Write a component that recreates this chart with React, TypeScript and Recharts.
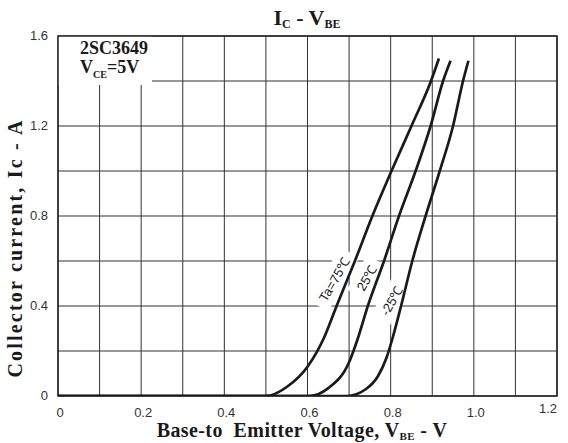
import { LineChart, Line, XAxis, YAxis, CartesianGrid, ReferenceArea, ReferenceDot } from 'recharts';

// Ic - Vbe curves of 2SC3649 at three ambient temperatures
const v75 = [0, 0.5, 0.55, 0.6, 0.64, 0.67, 0.714, 0.756, 0.802, 0.85, 0.897, 0.916];
const i75 = [0, 0, 0.04, 0.13, 0.26, 0.4, 0.6, 0.8, 1.0, 1.2, 1.4, 1.5];

const v25 = [0, 0.605, 0.65, 0.7, 0.72, 0.745, 0.784, 0.82, 0.86, 0.896, 0.926, 0.944];
const i25 = [0, 0, 0.035, 0.15, 0.25, 0.4, 0.6, 0.8, 1.0, 1.2, 1.4, 1.49];

const vM25 = [0, 0.694, 0.74, 0.77, 0.79, 0.805, 0.825, 0.852, 0.884, 0.918, 0.95, 0.974, 0.987];
const iM25 = [0, 0, 0.03, 0.09, 0.17, 0.26, 0.4, 0.6, 0.8, 1.0, 1.2, 1.4, 1.49];

const xTicks = [0, 0.1, 0.2, 0.3, 0.4, 0.5, 0.6, 0.7, 0.8, 0.9, 1.0, 1.1, 1.2];
const xLabels = ['0', '0.2', '0.4', '0.6', '0.8', '1.0', '1.2'];
const yTicks = [0, 0.2, 0.4, 0.6, 0.8, 1.0, 1.2, 1.4, 1.6];
const yLabels = ['0', '0.4', '0.8', '1.2', '1.6'];

const curveLabels = [
  { text: 'Ta=75℃', v: 0.664, i: 0.519, w: 62 },
  { text: '25℃', v: 0.742, i: 0.526, w: 40 },
  { text: '-25℃', v: 0.802, i: 0.424, w: 46 },
];

const toPoints = (vs: number[], is: number[]) => vs.map((v, k) => ({ v, i: is[k] }));
const s75 = toPoints(v75, i75);
const s25 = toPoints(v25, i25);
const sM25 = toPoints(vM25, iM25);

const sans = '"Liberation Sans", Arial, sans-serif';
const serif = '"Liberation Serif", "Times New Roman", serif';
const ink = '#1a1a1a';

const XTick = (props: any) => {
  const { x, y, payload } = props;
  const lbl = payload.value.toFixed(1) === '0.0' ? '0' : payload.value.toFixed(1);
  if (!xLabels.includes(lbl)) return <g />;
  const last = lbl === '1.2';
  return (
    <text x={last ? x : x + 2} y={last ? y + 9 : y + 13} textAnchor={last ? 'end' : 'middle'}
      fontFamily={sans} fontSize={13} fill="#333">{lbl}</text>
  );
};

const YTick = (props: any) => {
  const { x, y, payload } = props;
  const lbl = payload.value === 0 ? '0' : payload.value.toFixed(1);
  if (!yLabels.includes(lbl)) return <g />;
  return (
    <text x={x - 2} y={y + 4} textAnchor="end" fontFamily={sans} fontSize={13} fill="#333">{lbl}</text>
  );
};

const curveTag = (text: string, w: number) => (props: any) => {
  const { cx, cy } = props;
  return (
    <g transform={`translate(${cx},${cy}) rotate(-60)`}>
      <rect x={-w / 2} y={-11} width={w} height={22} fill="#fff" />
      <text x={0} y={5} textAnchor="middle" fontFamily={sans} fontSize={13} fill={ink}>{text}</text>
    </g>
  );
};

export default function App() {
  return (
    <div style={{ position: 'absolute', left: 0, top: 0, width: 568, height: 443, background: '#fff' }}>
      <LineChart width={568} height={443} margin={{ top: 36, right: 11, bottom: 17, left: 8 }}>
        <CartesianGrid stroke="#333" strokeWidth={1} />
        <XAxis dataKey="v" type="number" domain={[0, 1.2]} ticks={xTicks} tick={<XTick />}
          tickLine={false} axisLine={false} height={30} interval={0} allowDataOverflow />
        <YAxis type="number" domain={[0, 1.6]} ticks={yTicks} tick={<YTick />}
          tickLine={false} axisLine={false} width={50} interval={0} allowDataOverflow />
        <ReferenceArea x1={0} x2={0.226} y1={1.382} y2={1.6} fill="#fff" fillOpacity={1} stroke="none" zIndex={50} />
        <ReferenceArea x1={0} x2={1.2} y1={0} y2={1.6} fill="none" stroke="#222" strokeWidth={1.5} zIndex={60} />
        {curveLabels.map((c) => (
          <ReferenceDot key={c.text} x={c.v} y={c.i} r={0} shape={curveTag(c.text, c.w)} zIndex={70} />
        ))}
        <Line data={s75} dataKey="i" type="monotone" stroke={ink} strokeWidth={2.7} dot={false} isAnimationActive={false} />
        <Line data={s25} dataKey="i" type="monotone" stroke={ink} strokeWidth={2.7} dot={false} isAnimationActive={false} />
        <Line data={sM25} dataKey="i" type="monotone" stroke={ink} strokeWidth={2.7} dot={false} isAnimationActive={false} />
      </LineChart>
      <svg width={568} height={443} style={{ position: 'absolute', left: 0, top: 0, pointerEvents: 'none' }}>
        <text x={307} y={25} textAnchor="middle" fontFamily={serif} fontWeight="bold" fontSize={22} fill={ink}>
          I<tspan fontSize={12} dy={3}>C</tspan><tspan dy={-3} style={{ whiteSpace: 'pre' }}> - V</tspan><tspan fontSize={12} dy={3}>BE</tspan>
        </text>
        <text x={80} y={54} fontFamily={serif} fontWeight="bold" fontSize={18} fill={ink}>2SC3649</text>
        <text x={80} y={73} fontFamily={serif} fontWeight="bold" fontSize={18} fill={ink}>
          V<tspan fontSize={10} dy={5}>CE</tspan><tspan dy={-5}>=5V</tspan>
        </text>
        <text x={302} y={437} textAnchor="middle" fontFamily={serif} fontWeight="bold" fontSize={20} fill={ink}
          style={{ whiteSpace: 'pre' }} letterSpacing={0.4}>
          Base-to  Emitter Voltage, V<tspan fontSize={11} dy={3}>BE</tspan><tspan dy={-3}> - V</tspan>
        </text>
        <text transform="translate(22,248) rotate(-90)" textAnchor="middle" fontFamily={serif} fontWeight="bold"
          fontSize={20} fill={ink} letterSpacing={2.2}>
          Collector current, Ic - A
        </text>
      </svg>
    </div>
  );
}
